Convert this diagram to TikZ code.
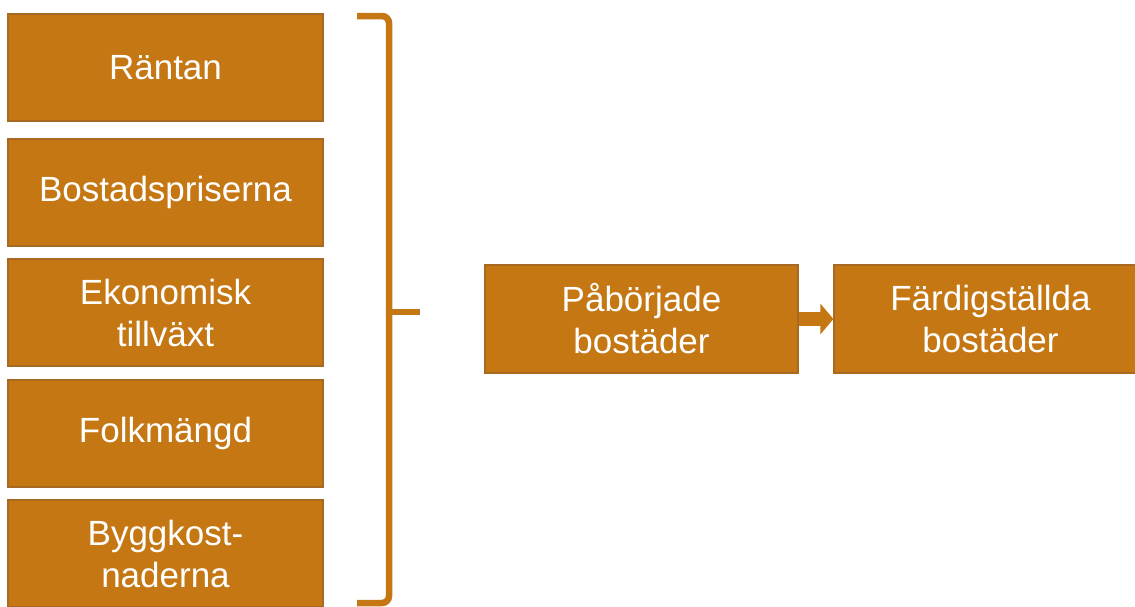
\documentclass[tikz,border=0pt]{standalone}
\usepackage{fontspec}
\setmainfont{Liberation Sans}
\usetikzlibrary{arrows.meta}
\definecolor{boxfill}{HTML}{C57713}
\definecolor{boxedge}{HTML}{A86A22}
\tikzset{
  factor/.style={draw=boxedge, line width=1.2pt, fill=boxfill, text=white,
    minimum width=315pt, minimum height=107pt, inner sep=0pt, align=center,
    font=\fontsize{35}{42}\selectfont},
  outcome/.style={factor, minimum width=313pt, minimum height=108pt},
  bracepath/.style={draw=boxfill, line width=6.5pt},
  flowarrow/.style={draw=boxfill, line width=14pt, -{Triangle[width=30pt,length=13pt]}}
}
\begin{document}
\begin{tikzpicture}[x=1pt,y=-1pt]
  \useasboundingbox (0,0) rectangle (1135,606);
  % left column of driving factors
  \node[factor] (r)  at (165.5,67.5)  {Räntan};
  \node[factor] (bp) at (165.5,192.5) {Bostadspriserna};
  \node[factor] (ek) at (165.5,312.5) {Ekonomisk\\tillväxt};
  \node[factor] (fm) at (165.5,433.5) {Folkmängd};
  \node[factor] (bk) at (165.5,553.5) {Byggkost-\\naderna};
  % brace grouping the factors
  \coordinate (bt) at (357,16);
  \coordinate (bm) at (389,312);
  \coordinate (tip) at (420,312);
  \coordinate (bb) at (357,603);
  \draw[bracepath, rounded corners=7pt] (bt) -- (389,16) -- (bm);
  \draw[bracepath, rounded corners=7pt] (bm) -- (389,603) -- (bb);
  \draw[bracepath] (bm) -- (tip);
  % outcomes
  \node[outcome] (pb) at (641.5,319) {Påbörjade\\bostäder};
  \node[outcome] (fb) at (990.5,319) {Färdigställda\\bostäder};
  \draw[flowarrow] (pb.east) -- (fb.west);
\end{tikzpicture}
\end{document}
